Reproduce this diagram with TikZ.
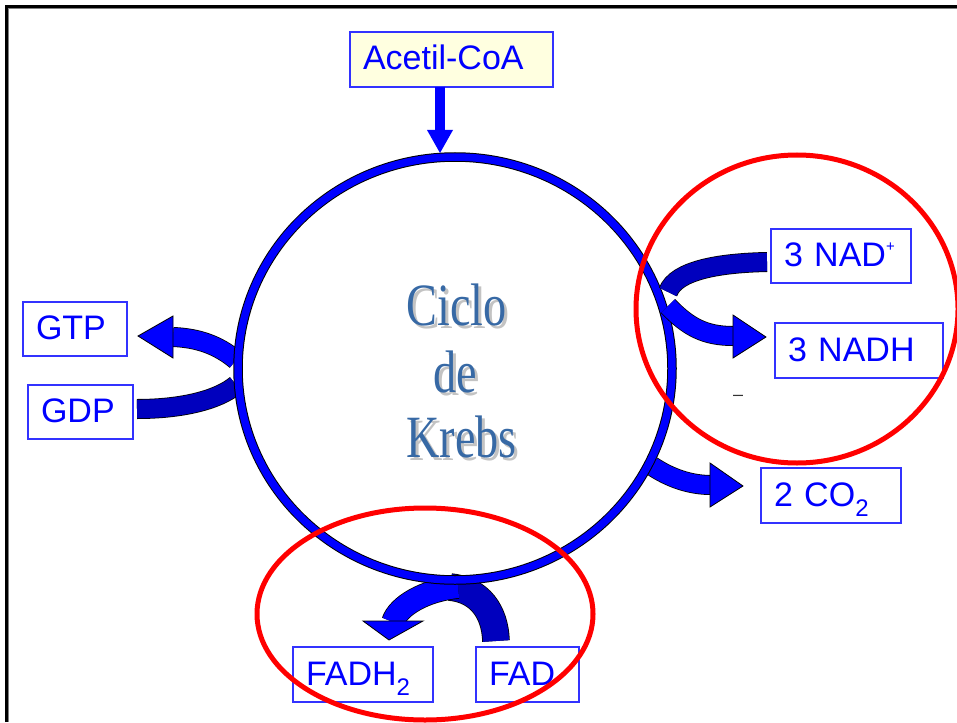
\documentclass[tikz,border=0pt]{standalone}
\usepackage{fontspec}
\setmainfont{Liberation Sans}
\newfontfamily\titlefont{Liberation Serif}
\usetikzlibrary{shapes.geometric,calc}

\definecolor{lblue}{RGB}{0,0,255}
\definecolor{dblue}{RGB}{0,0,190}
\definecolor{boxline}{RGB}{50,50,255}
\definecolor{cream}{RGB}{255,255,224}
\definecolor{titleblue}{RGB}{55,105,165}
\definecolor{shadowgray}{RGB}{195,195,195}

\tikzset{
  lbl/.style={draw=boxline, line width=1.2pt, fill=white, text=lblue,
    font=\fontsize{34}{34}\selectfont, anchor=north west, outer sep=0pt,
    inner xsep=13pt, inner ysep=0pt, text height=25pt, text depth=4pt,
    align=left},
  band/.style={draw=black, line width=0.8pt, double=#1, double distance=18.4pt},
  wideband/.style={draw=black, line width=0.8pt, double=#1, double distance=26pt},
  headfill/.style={fill=lblue, draw=black, line width=0.8pt, line join=miter},
  titletext/.style={anchor=base, inner sep=0pt,
    font=\titlefont\fontsize{60}{60}\selectfont},
  redring/.style={draw=red, line width=5pt},
}

\newcommand{\sub}[1]{\raisebox{-10pt}{\fontsize{24}{24}\selectfont #1}}
\newcommand{\ion}[1]{\raisebox{15pt}{\fontsize{15}{15}\selectfont #1}}
\newcommand{\narrow}[1]{\scalebox{0.77}[1]{#1}}

\begin{document}
\begin{tikzpicture}[x=1pt,y=-1pt]
\useasboundingbox (0,0) rectangle (957,722);

% page frame
\draw[line width=3pt] (6.5,722) -- (6.5,6.5) -- (957,6.5);
\draw[gray, line width=1pt] (8.5,722) -- (8.5,8.5) -- (957,8.5);

% labels
\node[lbl, fill=cream, minimum height=55pt, text width=177pt] (acetil) at (350,32) {Acetil-CoA};
\node[lbl, minimum height=54pt, text width=78pt] (gtp) at (23,302) {GTP};
\node[lbl, minimum height=54pt, text width=79pt] (gdp) at (28,385) {GDP};
\node[lbl, minimum height=54pt, text width=114pt] (nad) at (771,229) {3 NAD\ion{+}};
\node[lbl, minimum height=55pt, text width=142pt] (nadh) at (775,323) {3 NADH};
\node[lbl, minimum height=55pt, text width=114pt] (co2) at (761,468) {2 CO\sub{2}};
\node[lbl, minimum height=55pt, text width=114pt] (fadh) at (293,647) {FADH\sub{2}};
\node[lbl, minimum height=55pt, text width=77pt] (fad) at (476,647) {FAD};

% end points of the curved arrows
\coordinate (gdpIn) at (137,409);
\coordinate (gdpJoin) at (236,385);
\coordinate (gtpStart) at (236,360);
\coordinate (gtpBase) at (173,337);
\coordinate (gtpTip) at (138,336);
\coordinate (coStart) at (652,466);
\coordinate (coBase) at (711,485);
\coordinate (coTip) at (743,486);
\coordinate (fadIn) at (496,641);
\coordinate (fadJoin) at (450,587);
\coordinate (fadhStart) at (458,587);
\coordinate (fadhBase) at (393,622);
\coordinate (fadhTip) at (389,640);
\coordinate (nadIn) at (767,262);
\coordinate (nadJoin) at (668,292);
\coordinate (nadhStart) at (668,306);
\coordinate (nadhBase) at (733,336);
\coordinate (nadhTip) at (766,337);
\coordinate (aBase) at (440,130);
\coordinate (aTip) at (440,153);

% GDP -> GTP
\draw[band=dblue] (gdpIn) .. controls (182,409) and (218,400) .. (gdpJoin);
\draw[band=lblue] (gtpStart) .. controls (218,345) and (198,338) .. (gtpBase);
\draw[headfill] ($(gtpBase)+(0,-21)$) -- (gtpTip) -- ($(gtpBase)+(0,21)$) -- cycle;

% CO2
\draw[band=lblue] (coStart) .. controls (670,478) and (690,485) .. (coBase);
\draw[headfill] ($(coBase)+(-1,-22)$) -- (coTip) -- ($(coBase)+(-1,22)$) -- cycle;

% FAD -> FADH2
\draw[wideband=dblue] (fadIn) .. controls (495,612) and (480,590) .. (fadJoin);
\draw[band=lblue, double distance=22pt] (fadhStart) .. controls (425,590) and (398,606) .. (fadhBase);
\draw[headfill] (363,621) -- (fadhTip) -- (423,621) -- cycle;

% the cycle
\node[ellipse, draw=black, line width=1pt, double=lblue, double distance=7.5pt,
      minimum width=434pt, minimum height=423pt, inner sep=0pt] (ring) at (455,368.5) {};

% NAD+ -> NADH
\draw[band=dblue] (nadIn) .. controls (720,263) and (676,270) .. (nadJoin);
\draw[band=lblue] (nadhStart) .. controls (688,327) and (705,336) .. (nadhBase);
\draw[headfill] ($(nadhBase)+(0,-21)$) -- (nadhTip) -- ($(nadhBase)+(0,22)$) -- cycle;

% Acetil-CoA feeding the cycle
\draw[lblue, line width=10pt] (acetil.south -| aBase) -- (aBase);
\fill[lblue] ($(aBase)+(-13,0)$) -- (aTip) -- ($(aBase)+(13,0)$) -- cycle;

% title with its shadow
\node[titletext, text=shadowgray] (s1) at (459.5,328) {\narrow{Ciclo}};
\node[titletext, text=shadowgray] (s2) at (458,395) {\narrow{de}};
\node[titletext, text=shadowgray] (s3) at (464.5,460) {\narrow{Krebs}};
\node[titletext, text=titleblue] (t1) at (456.5,325) {\narrow{Ciclo}};
\node[titletext, text=titleblue] (t2) at (455,392) {\narrow{de}};
\node[titletext, text=titleblue] (t3) at (461.5,457) {\narrow{Krebs}};

% small stray dash
\node[inner sep=0pt, text=black!80, font=\fontsize{18}{18}\selectfont] (dash) at (738,398) {–};

% highlight rings
\draw[redring] (797,309) ellipse [x radius=161, y radius=154];
\draw[redring] (425,614) ellipse [x radius=168, y radius=106];
\end{tikzpicture}
\end{document}
